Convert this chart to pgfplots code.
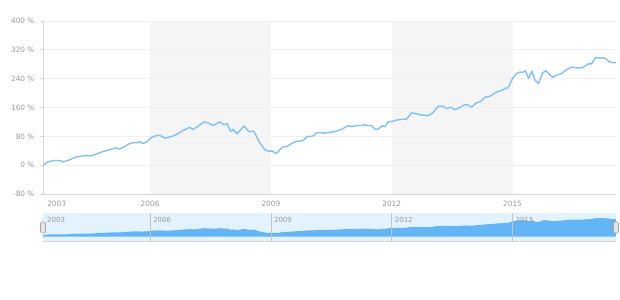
\documentclass[border=0pt]{standalone}
\usepackage{pgfplots}
\pgfplotsset{compat=1.18}
\usepackage{pgfplotstable}
\usepackage{fontspec}
\setmainfont{DejaVu Sans}
\definecolor{linec}{HTML}{7EC0F7}
\definecolor{areac}{HTML}{64B5F6}
\definecolor{bandc}{HTML}{F5F5F5}
\definecolor{gridc}{HTML}{F0F0F0}
\definecolor{axisc}{HTML}{D6D6D6}
\definecolor{labc}{HTML}{999999}
\definecolor{scrollbg}{HTML}{E3F3FD}
\definecolor{scrollline}{HTML}{C4C4C4}
\pgfplotstableread{
x v
2003.345 0
2003.467 9
2003.591 13
2003.758 13
2003.840 9
2004.006 15
2004.170 23
2004.336 26
2004.545 26
2004.669 31
2004.833 38
2005.000 43
2005.123 48
2005.248 45
2005.372 52
2005.496 60
2005.620 63
2005.702 62
2005.744 66
2005.811 60
2005.911 64
2006.035 77
2006.159 82
2006.241 83
2006.365 75
2006.489 78
2006.656 85
2006.780 94
2006.986 105
2007.068 99
2007.192 108
2007.341 120
2007.440 117
2007.564 110
2007.730 120
2007.830 112
2007.912 115
2007.997 94
2008.061 99
2008.160 87
2008.327 108
2008.458 93
2008.575 94
2008.724 62
2008.848 43
2008.955 38
2009.015 40
2009.139 32
2009.221 43
2009.303 51
2009.387 51
2009.511 60
2009.635 66
2009.799 68
2009.899 80
2010.033 80
2010.157 91
2010.296 89
2010.544 92
2010.753 99
2010.917 110
2011.001 107
2011.125 110
2011.250 110
2011.332 112
2011.414 110
2011.498 110
2011.597 99
2011.662 100
2011.771 110
2011.828 106
2011.910 120
2012.034 122
2012.158 126
2012.367 128
2012.491 145
2012.615 143
2012.697 140
2012.903 137
2013.027 146
2013.151 163
2013.275 163
2013.374 157
2013.467 161
2013.566 154
2013.673 159
2013.815 168
2013.897 167
2013.981 161
2014.105 173
2014.212 177
2014.311 188
2014.436 191
2014.602 203
2014.726 207
2014.833 214
2014.890 214
2015.000 240
2015.099 254
2015.181 258
2015.263 258
2015.322 262
2015.397 241
2015.479 261
2015.553 237
2015.645 226
2015.744 256
2015.826 262
2015.993 244
2016.132 251
2016.216 254
2016.340 265
2016.464 272
2016.589 270
2016.713 270
2016.795 274
2016.877 281
2016.961 281
2017.060 299
2017.167 297
2017.291 297
2017.373 290
2017.457 285
2017.564 284
}\data
\begin{document}
\begin{tikzpicture}
\path (0,0) rectangle (620bp,300bp);
% bands (same geometry as main axis)
\begin{axis}[
  at={(43bp,106bp)}, anchor=south west,
  width=573bp, height=173bp, scale only axis,
  xmin=2003.34, xmax=2017.57, ymin=-80, ymax=400,
  hide axis,
]
\addplot[fill=bandc, draw=none] coordinates {(2006,-80) (2006,400) (2009,400) (2009,-80)} -- cycle;
\addplot[fill=bandc, draw=none] coordinates {(2012,-80) (2012,400) (2015,400) (2015,-80)} -- cycle;
\end{axis}
\begin{axis}[
  at={(43bp,106bp)}, anchor=south west,
  width=573bp, height=173bp, scale only axis,
  xmin=2003.34, xmax=2017.57, ymin=-80, ymax=400,
  ytick={-80,0,80,160,240,320,400},
  yticklabels={-80 \%,0 \%,80 \%,160 \%,240 \%,320 \%,400 \%},
  xtick={2003.68,2006,2009,2012,2015},
  xticklabels={2003,2006,2009,2012,2015},
  axis x line*=bottom, axis y line*=left,
  axis line style={draw=axisc, line width=0.8bp, -},
  ymajorgrids, grid style={draw=gridc, line width=0.8bp},
  tick align=outside,
  major tick length=3bp,
  y tick style={draw=axisc, line width=0.8bp},
  x tick style={draw=none},
  tick label style={font=\fontsize{7.4}{8}\selectfont, text=labc},
  yticklabel style={xshift=-2bp},
  xticklabel style={yshift=-1bp},
]
\addplot[linec, line width=1.4bp, line join=round] table[x=x,y=v] {\data};
\end{axis}
\begin{axis}[
  at={(43bp,59bp)}, anchor=south west,
  width=573bp, height=28bp, scale only axis,
  xmin=2003.34, xmax=2017.57, ymin=-76, ymax=418,
  axis x line*=bottom, axis y line=none,
  axis line style={draw=axisc, line width=0.8bp, -},
  xtick=\empty, ytick=\empty,
  axis background/.style={fill=scrollbg},
  clip=false,
]
\addplot[fill=areac, draw=none] table[x=x, y expr=\thisrow{v}+30] {\data} \closedcycle;
\pgfplotsinvokeforeach{2006,2009,2012,2015}{
  \draw[scrollline, line width=0.7bp] (axis cs:#1,-76) -- (axis cs:#1,418);
  \node[anchor=north west, inner sep=0pt, text=labc, font=\fontsize{7}{8}\selectfont] at ([xshift=3bp, yshift=-4.5bp]axis cs:#1,418) {#1};
}
\node[anchor=north west, inner sep=0pt, text=labc, font=\fontsize{7}{8}\selectfont] at ([xshift=4bp, yshift=-4.5bp]axis cs:2003.34,418) {2003};
\end{axis}
\draw[rounded corners=1.2bp, fill=gray!20, draw=gray!70, line width=0.6bp] (40.5bp,67bp) rectangle (45.5bp,78bp);
\draw[rounded corners=1.2bp, fill=gray!20, draw=gray!70, line width=0.6bp] (613.5bp,67bp) rectangle (618.5bp,78bp);
\end{tikzpicture}
\end{document}
